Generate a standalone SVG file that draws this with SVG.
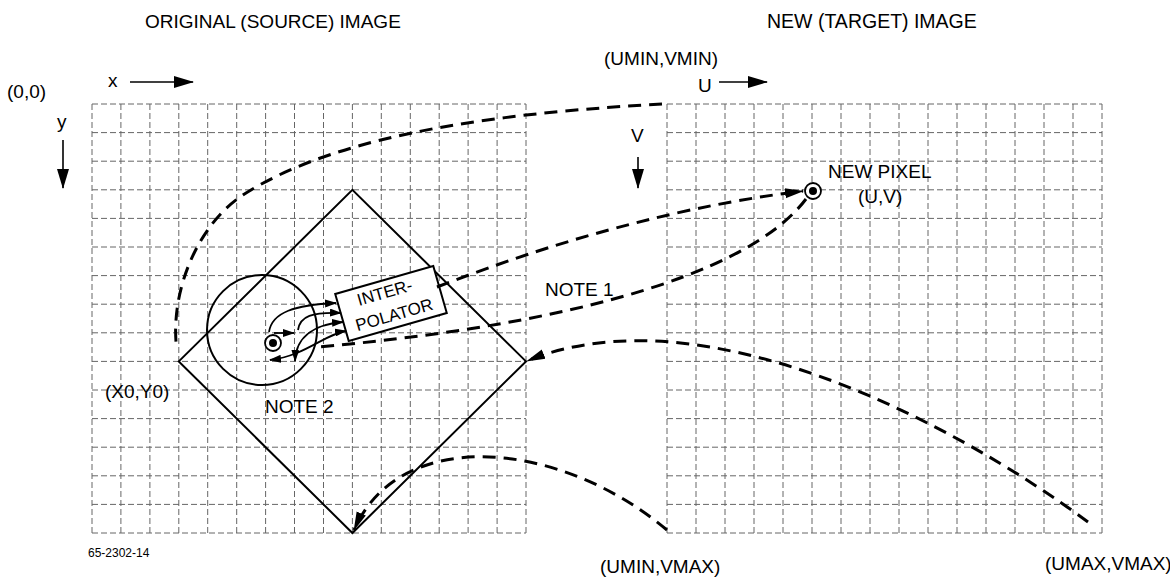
<svg xmlns="http://www.w3.org/2000/svg" width="1170" height="579" viewBox="0 0 1170 579">
<defs>
<style>
text{font-family:"Liberation Sans",Arial,sans-serif;font-size:19px;fill:#000}
.grid{fill:none;stroke:#666;stroke-width:1;stroke-dasharray:6 3}
.solid{fill:none;stroke:#000;stroke-width:2}
.dash{fill:none;stroke:#000;stroke-width:3;stroke-dasharray:13 8}
.small{fill:none;stroke:#000;stroke-width:1.8}
.axis{fill:none;stroke:#000;stroke-width:1.6}
</style>
<marker id="big" markerUnits="userSpaceOnUse" markerWidth="20" markerHeight="12" refX="18" refY="6" orient="auto" viewBox="0 0 20 12">
<path d="M0,1 L19,6 L0,11 Z" fill="#000"/>
</marker>
<marker id="sm" markerUnits="userSpaceOnUse" markerWidth="12" markerHeight="8" refX="11" refY="4" orient="auto" viewBox="0 0 12 8">
<path d="M0,0 L12,4 L0,8 Z" fill="#000"/>
</marker>
<marker id="smS" markerUnits="userSpaceOnUse" markerWidth="12" markerHeight="8" refX="1" refY="4" orient="auto" viewBox="0 0 12 8">
<path d="M12,0 L0,4 L12,8 Z" fill="#000"/>
</marker>
<marker id="ax" markerUnits="userSpaceOnUse" markerWidth="20" markerHeight="12" refX="19" refY="6" orient="auto" viewBox="0 0 20 12">
<path d="M0,0 L20,6 L0,12 Z" fill="#000"/>
</marker>
</defs>
<rect width="1170" height="579" fill="#fff"/>

<g id="source-grid">
<path class="grid" d="M92,104V533M120.9,104V533M149.9,104V533M178.8,104V533M207.7,104V533M236.7,104V533M265.6,104V533M294.5,104V533M323.5,104V533M352.4,104V533M381.3,104V533M410.3,104V533M439.2,104V533M468.1,104V533M497.1,104V533M526,104V533"/>
<path class="grid" d="M92,104H526M92,132.6H526M92,161.2H526M92,189.8H526M92,218.4H526M92,247H526M92,275.6H526M92,304.2H526M92,332.8H526M92,361.4H526M92,390H526M92,418.6H526M92,447.2H526M92,475.8H526M92,504.4H526M92,533H526"/>
</g>
<g id="target-grid">
<path class="grid" d="M667,104V533M696,104V533M725,104V533M754,104V533M783,104V533M812,104V533M841,104V533M870,104V533M899,104V533M928,104V533M957,104V533M986,104V533M1015,104V533M1044,104V533M1073,104V533M1102,104V533"/>
<path class="grid" d="M667,104H1102M667,132.6H1102M667,161.2H1102M667,189.8H1102M667,218.4H1102M667,247H1102M667,275.6H1102M667,304.2H1102M667,332.8H1102M667,361.4H1102M667,390H1102M667,418.6H1102M667,447.2H1102M667,475.8H1102M667,504.4H1102M667,533H1102"/>
</g>

<g id="titles">
<text x="145" y="28">ORIGINAL (SOURCE) IMAGE</text>
<text x="767" y="28" style="font-size:19.5px">NEW (TARGET) IMAGE</text>
<text x="604" y="65">(UMIN,VMIN)</text>
<text x="7" y="98">(0,0)</text>
<text x="88" y="557" style="font-size:12px">65-2302-14</text>
<text x="600" y="573">(UMIN,VMAX)</text>
<text x="1045" y="570">(UMAX,VMAX)</text>
</g>

<g id="axes">
<text x="108" y="87">x</text>
<path class="axis" d="M130,82H193" marker-end="url(#ax)"/>
<text x="698" y="92">U</text>
<path class="axis" d="M719,82H767" marker-end="url(#ax)"/>
<text x="57" y="128">y</text>
<path class="axis" d="M63,140V188" marker-end="url(#ax)"/>
<text x="631" y="142">V</text>
<path class="axis" d="M638,157V188" marker-end="url(#ax)"/>
</g>

<g id="mapped-region">
<path class="solid" d="M178.8,361.4L352.4,189.8L526,361.4L352.4,533Z"/>
<text x="105" y="398">(X0,Y0)</text>
</g>

<g id="neighborhood">
<circle class="solid" cx="262" cy="330" r="55"/>
<text x="265" y="413">NOTE 2</text>
</g>

<g id="interpolator" transform="translate(391,303.5) rotate(-16)">
<rect x="-51" y="-24.5" width="102" height="49" fill="#fff" stroke="#000" stroke-width="2"/>
<text x="-3" y="-6.5" text-anchor="middle" style="font-size:17px">INTER-</text>
<text x="0" y="17.5" text-anchor="middle" style="font-size:17px">POLATOR</text>
</g>

<g id="source-pixel">
<circle cx="273" cy="343" r="8" fill="#fff" stroke="#000" stroke-width="1.8"/>
<circle cx="273" cy="343" r="4" fill="#000"/>
</g>

<g id="new-pixel">
<circle cx="813" cy="191" r="8" fill="#fff" stroke="#000" stroke-width="1.8"/>
<circle cx="813" cy="191" r="4" fill="#000"/>
<text x="828" y="178">NEW PIXEL</text>
<text x="858" y="203">(U,V)</text>
</g>

<g id="connectors">
<path class="dash" d="M662,104C520,112 340,130 240,197C200,225 172,285 176,342"/>
<path class="dash" d="M437,287C520,255 650,210 803,191" marker-end="url(#big)"/>
<path class="dash" d="M806,199C760,260 620,320 318,347"/>
<text x="545" y="296">NOTE 1</text>
<path class="dash" d="M1088,522C950,420 700,290 527,361" marker-end="url(#big)"/>
<path class="dash" d="M667,530C560,440 400,425 354,530" marker-end="url(#big)"/>
<path class="small" d="M269,332C272,312 295,305 336,303" marker-end="url(#sm)"/>
<path class="small" d="M298,330C300,316 312,312 341,313" marker-end="url(#sm)"/>
<path class="small" d="M343,322C318,324 296,334 295,361" marker-start="url(#smS)" marker-end="url(#sm)"/>
<path class="small" d="M346,331C325,334 305,356 270,360" marker-start="url(#smS)" marker-end="url(#sm)"/>
<path class="small" d="M274,333H294" marker-end="url(#sm)"/>
</g>
</svg>
